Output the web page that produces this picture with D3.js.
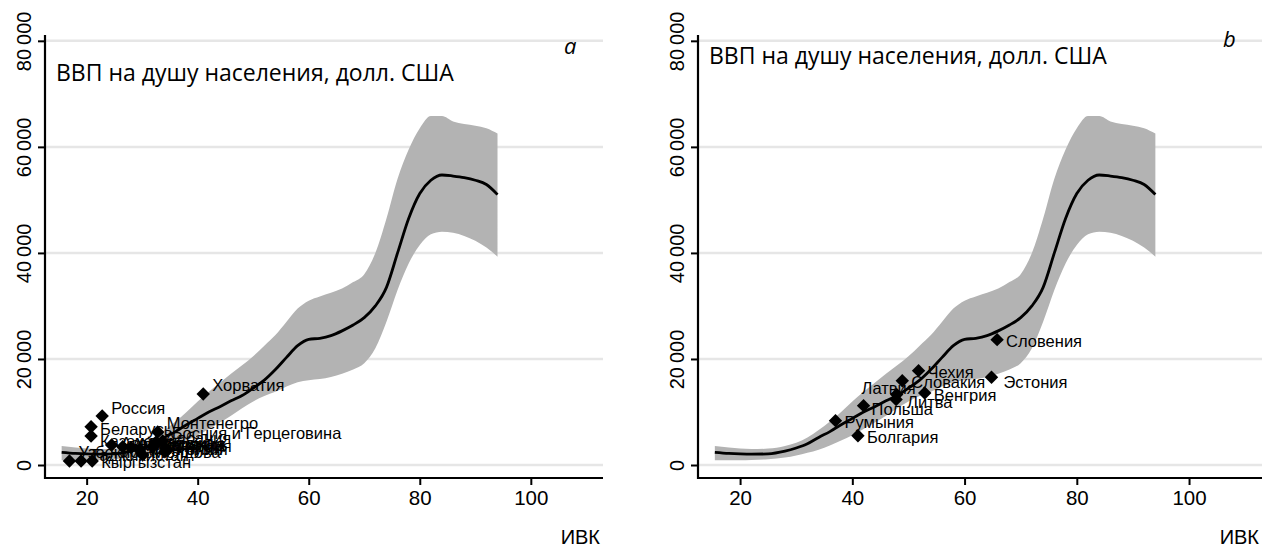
<!DOCTYPE html>
<html><head><meta charset="utf-8">
<script src="https://cdn.jsdelivr.net/npm/d3@7"></script>
<style>body{margin:0;background:#fff}svg{display:block}</style>
</head><body><svg id="c" width="1270" height="547"></svg>
<script>
// ---- data ----
const fitX  = [15.5,18,20,22,25,28,30,32,34,36,38,40,42,44,46,48,50,52,54,56,58,60,62,64,66,68,70,72,74,76,78,80,82,84,86,88,90,92,94];
const fitY  = [2400,2200,2100,2050,2100,2600,3200,4000,5200,6300,7600,8800,10000,11000,12100,13100,14500,16000,18000,20300,22500,23700,23900,24400,25300,26400,27800,30000,33500,40000,46500,51200,53700,54700,54500,54200,53700,52900,51000];
const bandHi = [3600,3300,3100,3000,3100,3600,4200,5200,6600,8200,10000,12000,13800,15500,17200,18800,20500,22500,24500,27000,29500,31000,31800,32500,33300,34500,36000,40000,46500,54000,59500,63500,65800,65800,64800,64300,64000,63500,62500];
const bandLo = [900,900,900,950,1100,1400,1800,2300,2900,3700,4600,5600,6800,8000,9300,10700,12000,13000,13800,14800,15600,16000,16200,16600,17200,18000,19200,22000,27000,33000,38000,41500,43500,44000,43800,43200,42300,41000,39300];

const namesA = ["Хорватия","Россия","Беларусь","Казахстан","Монтенегро","Босния и Герцеговина","Азербайджан","Армения","Македония","Монголия","Молдова","Украина","Албания","Сербия","Грузия","Узбекистан","Таджикистан","Кыргызстан"];
const ivkA   = [41.0,22.8,20.8,20.8,32.8,33.7,24.5,26.5,28.0,29.5,30.1,31.9,32.5,34.1,34.6,16.9,19.0,21.0];
const gdpA   = [13400,9250,7230,5470,6230,4530,3770,3450,3300,2830,1890,3450,4300,2510,2830,750,750,750];

const namesB = ["Словения","Чехия","Словакия","Эстония","Латвия","Литва","Венгрия","Польша","Румыния","Болгария"];
const ivkB   = [65.8,51.8,48.9,64.8,47.9,47.8,52.9,42.0,37.0,41.0];
const gdpB   = [23640,17800,15900,16550,13300,12350,13580,11200,8370,5530];

const xTicks = [20,40,60,80,100];
const yTicks = [0,20000,40000,60000,80000];
const titleText = "ВВП на душу населения, долл. США";
const xTitle = "ИВК";
const panelLetters = ["a","b"];

// ---- label placement (style) ----
const labelPosA = {
  "Хорватия":[9,-9], "Россия":[9,-8], "Беларусь":[9,2], "Казахстан":[9,5],
  "Монтенегро":[9,-9], "Босния и Герцеговина":[9,-8], "Азербайджан":[9,-2], "Армения":[9,-3],
  "Македония":[9,-4], "Монголия":[9,-1], "Молдова":[9,-3], "Украина":[9,-3],
  "Албания":[9,-4], "Сербия":[9,-6], "Грузия":[9,-1],
  "Узбекистан":[9,-9], "Таджикистан":[9,-6], "Кыргызстан":[9,1]
};
const labelPosB = {
  "Словения":[9,1], "Чехия":[9,1], "Словакия":[9,1], "Эстония":[12,5],
  "Латвия":[-8,-6,"middle"], "Литва":[11,2], "Венгрия":[9,2], "Польша":[8,3],
  "Румыния":[9,1], "Болгария":[9,1]
};

const svg = d3.select("#c");
svg.append("rect").attr("width",1270).attr("height",547).attr("fill","#fff");

const fmt = d => d3.format(",")(d).replace(/,/g,"\u2009");
const tickFont = "'Liberation Sans', Arial, sans-serif";

function panel(cfg){
  const g = svg.append("g");
  const x = d3.scaleLinear().domain([12.5,113]).range([cfg.left, cfg.right]);
  const y = d3.scaleLinear().domain([-2450,81100]).range([478,35]);

  g.append("g").selectAll("line").data(yTicks).join("line")
    .attr("x1",cfg.left).attr("x2",cfg.right)
    .attr("y1",d=>y(d)).attr("y2",d=>y(d))
    .attr("stroke","#e6e6e6").attr("stroke-width",2.5);

  const rows = fitX.map((v,i)=>({x:v, f:fitY[i], hi:bandHi[i], lo:bandLo[i]}));
  g.append("path").datum(rows)
    .attr("d", d3.area().x(d=>x(d.x)).y0(d=>y(d.lo)).y1(d=>y(d.hi)).curve(d3.curveMonotoneX))
    .attr("fill","#b3b3b3");
  g.append("path").datum(rows)
    .attr("d", d3.line().x(d=>x(d.x)).y(d=>y(d.f)).curve(d3.curveMonotoneX))
    .attr("fill","none").attr("stroke","#000").attr("stroke-width",2.8);

  const pts = cfg.names.map((n,i)=>({n, x:cfg.ivk[i], y:cfg.gdp[i]}));
  g.append("g").selectAll("path").data(pts).join("path")
    .attr("d", d3.symbol().type(d3.symbolSquare).size(90))
    .attr("transform", d=>`translate(${x(d.x)},${y(d.y)}) rotate(45)`)
    .attr("fill","#000");
  g.append("g").selectAll("text").data(pts).join("text")
    .attr("x", d=>x(d.x) + cfg.lab[d.n][0])
    .attr("y", d=>y(d.y) + cfg.lab[d.n][1])
    .attr("dominant-baseline","central")
    .attr("text-anchor", d=>cfg.lab[d.n][2] || "start")
    .attr("font-family", tickFont).attr("font-size",16.5).attr("fill","#000")
    .text(d=>d.n);

  const ax = g.append("g").attr("transform","translate(0,478)")
    .call(d3.axisBottom(x).tickValues(xTicks).tickSize(7).tickPadding(5).tickFormat(d3.format("d")));
  ax.select(".domain").remove();
  ax.selectAll("line").attr("stroke","#000").attr("stroke-width",2);
  ax.selectAll("text").attr("font-family",tickFont).attr("font-size",20.5).attr("fill","#000");

  const ay = g.append("g").attr("transform",`translate(${cfg.left},0)`)
    .call(d3.axisLeft(y).tickValues(yTicks).tickSize(7).tickFormat(fmt));
  ay.select(".domain").remove();
  ay.selectAll("line").attr("stroke","#000").attr("stroke-width",2);
  ay.selectAll("text").attr("font-family",tickFont).attr("font-size",20).attr("fill","#000")
    .attr("transform","rotate(-90)").attr("x",0).attr("y",-21).attr("dy",null)
    .attr("text-anchor","middle").attr("dominant-baseline","central");

  g.append("line").attr("x1",cfg.left).attr("x2",cfg.left).attr("y1",35).attr("y2",479)
    .attr("stroke","#000").attr("stroke-width",2.2);
  g.append("line").attr("x1",cfg.left-1).attr("x2",cfg.right).attr("y1",478).attr("y2",478)
    .attr("stroke","#000").attr("stroke-width",2.2);

  g.append("text").attr("x",cfg.left+11).attr("y",cfg.titleY)
    .attr("dominant-baseline","central")
    .attr("font-family","'Open Sans', 'Noto Sans', sans-serif").attr("font-size",23).attr("fill","#000")
    .text(titleText);
  g.append("text").attr("x",cfg.letterX).attr("y",cfg.letterY)
    .attr("dominant-baseline","central").attr("font-style","italic")
    .attr("font-family","'Open Sans', sans-serif").attr("font-size",22).attr("fill","#000")
    .text(cfg.letter);
  g.append("text").attr("x",cfg.right-3).attr("y",537)
    .attr("dominant-baseline","central").attr("text-anchor","end")
    .attr("font-family",tickFont).attr("font-size",20).attr("fill","#000")
    .text(xTitle);
}

panel({left:45, right:603, names:namesA, ivk:ivkA, gdp:gdpA, lab:labelPosA,
       titleY:72, letter:panelLetters[0], letterX:564, letterY:45});
panel({left:698, right:1262, names:namesB, ivk:ivkB, gdp:gdpB, lab:labelPosB,
       titleY:55, letter:panelLetters[1], letterX:1223, letterY:38});
</script></body></html>
